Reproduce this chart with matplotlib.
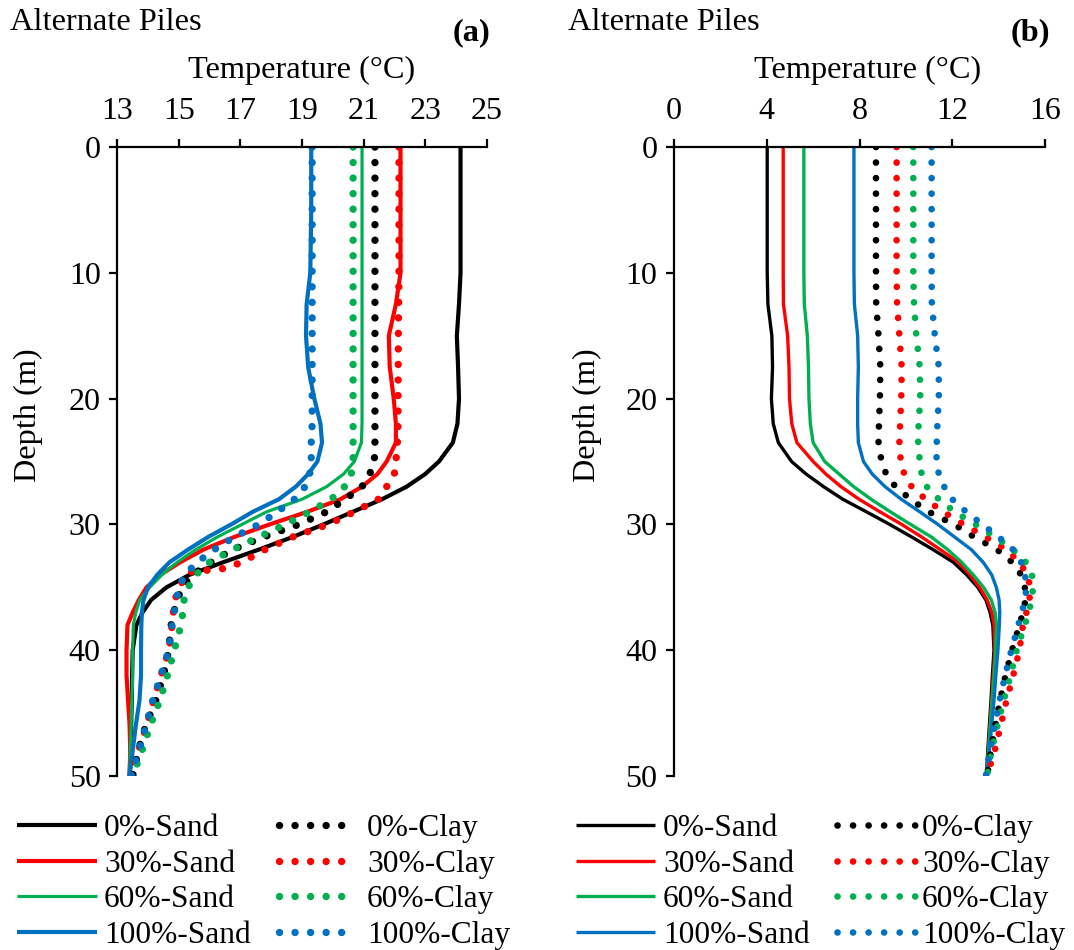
import matplotlib
matplotlib.use("Agg")
import matplotlib.pyplot as plt

plt.rcParams['font.family'] = ['Liberation Serif', 'DejaVu Serif']

# ---------------- data ----------------
depth = [0, 5, 10, 12.5, 15, 17.5, 20, 22, 23.5, 25, 26, 27, 28, 29, 30, 31, 32,
         33, 34, 35, 36, 37, 38, 40, 42, 44, 46, 48, 50]

# Panel (a)
a_sand_0 = [24.15, 24.15, 24.15, 24.1, 24.03, 24.07, 24.1, 24.05, 23.9, 23.45, 23.0, 22.4,
            21.6, 20.65, 19.7, 18.7, 17.6, 16.45, 15.35, 14.6, 14.1, 13.82, 13.62, 13.5,
            13.48, 13.47, 13.45, 13.43, 13.4]
a_sand_30 = [22.2, 22.2, 22.2, 22.05, 21.82, 21.85, 21.98, 22.05, 22.05, 21.75, 21.45, 20.95,
             20.25, 19.17, 17.95, 16.8, 15.8, 15.05, 14.4, 13.95, 13.7, 13.5, 13.33, 13.3,
             13.3, 13.35, 13.4, 13.42, 13.4]
a_sand_60 = [20.95, 20.95, 20.95, 20.95, 20.95, 20.95, 20.95, 20.95, 20.93, 20.7, 20.35, 19.8,
             19.0, 17.85, 17.05, 16.25, 15.55, 14.95, 14.45, 14.05, 13.73, 13.6, 13.52, 13.5,
             13.5, 13.47, 13.45, 13.42, 13.4]
a_sand_100 = [19.3, 19.3, 19.27, 19.15, 19.13, 19.2, 19.4, 19.6, 19.65, 19.5, 19.2, 18.8,
              18.25, 17.4, 16.7, 15.95, 15.3, 14.7, 14.3, 14.0, 13.85, 13.8, 13.78, 13.77,
              13.77, 13.72, 13.6, 13.5, 13.4]
a_clay_0 = [21.37, 21.37, 21.37, 21.37, 21.37, 21.37, 21.37, 21.37, 21.37, 21.35, 21.2, 20.95,
            20.4, 19.8, 18.9, 17.75, 16.75, 16.05, 15.45, 15.1, 14.95, 14.83, 14.75, 14.67,
            14.5, 14.25, 13.92, 13.68, 13.5]
depth_a_clay_30 = [0, 5, 10, 15, 20, 22, 23.5, 25, 26, 27, 28, 29, 30, 31, 32, 33, 33.5, 33.8,
                   35, 36, 37, 38, 40, 42, 44, 46, 48, 50]
a_clay_30 = [22.15, 22.15, 22.15, 22.13, 22.12, 22.12, 22.1, 22.05, 22.0, 21.75, 21.48, 20.7,
             19.85, 18.7, 17.8, 17.05, 16.5, 15.3, 15.0, 14.88, 14.82, 14.78, 14.68, 14.42,
             14.18, 13.95, 13.68, 13.45]
a_clay_60 = [20.66, 20.66, 20.66, 20.66, 20.66, 20.66, 20.66, 20.66, 20.66, 20.66, 20.6, 20.38,
             19.95, 19.25, 18.45, 17.6, 16.75, 16.0, 15.55, 15.3, 15.17, 15.13, 15.07, 14.85,
             14.63, 14.38, 14.07, 13.8, 13.5]
a_clay_100 = [19.33, 19.33, 19.33, 19.33, 19.33, 19.33, 19.33, 19.33, 19.3, 19.3, 19.25, 19.1,
              18.75, 18.2, 17.6, 16.8, 16.15, 15.6, 15.2, 15.0, 14.92, 14.85, 14.78, 14.67,
              14.42, 14.15, 13.93, 13.7, 13.45]

# Panel (b)
b_sand_0 = [4.02, 4.02, 4.02, 4.05, 4.22, 4.25, 4.2, 4.28, 4.5, 5.07, 5.7, 6.45, 7.28, 8.3,
            9.3, 10.25, 11.17, 12.04, 12.62, 13.1, 13.45, 13.63, 13.75, 13.8, 13.73, 13.67,
            13.6, 13.53, 13.47]
b_sand_30 = [4.71, 4.71, 4.71, 4.72, 4.9, 4.96, 4.98, 5.08, 5.3, 6.0, 6.55, 7.2, 7.98, 8.88,
             9.82, 10.68, 11.48, 12.26, 12.76, 13.18, 13.5, 13.71, 13.8, 13.84, 13.77, 13.7,
             13.63, 13.56, 13.48]
b_sand_60 = [5.6, 5.6, 5.6, 5.62, 5.75, 5.8, 5.82, 5.88, 6.0, 6.5, 7.12, 7.75, 8.5, 9.33,
             10.2, 11.1, 11.8, 12.4, 12.9, 13.35, 13.68, 13.85, 13.91, 13.87, 13.8, 13.72,
             13.64, 13.56, 13.48]
b_sand_100 = [7.76, 7.76, 7.76, 7.78, 7.92, 7.95, 7.92, 7.92, 7.95, 8.17, 8.55, 9.1, 9.8, 10.6,
              11.38, 12.1, 12.82, 13.33, 13.7, 13.9, 14.02, 14.05, 14.03, 13.97, 13.88, 13.8,
              13.7, 13.6, 13.5]
b_clay_0 = [8.71, 8.71, 8.71, 8.72, 8.82, 8.9, 8.88, 8.84, 8.82, 8.95, 9.15, 9.55, 10.2, 10.98,
            12.08, 12.95, 13.93, 14.58, 14.97, 15.13, 15.16, 15.05, 14.9, 14.58, 14.3, 14.06,
            13.86, 13.67, 13.5]
b_clay_30 = [9.6, 9.6, 9.6, 9.62, 9.72, 9.82, 9.8, 9.75, 9.72, 9.78, 9.93, 10.25, 10.85, 11.61,
             12.5, 13.43, 14.33, 14.9, 15.23, 15.37, 15.33, 15.2, 15.05, 14.9, 14.63, 14.34,
             14.09, 13.83, 13.5]
b_clay_60 = [10.32, 10.32, 10.32, 10.35, 10.45, 10.6, 10.62, 10.55, 10.53, 10.6, 10.68, 10.9,
             11.42, 12.1, 13.0, 13.86, 14.62, 15.17, 15.44, 15.49, 15.42, 15.3, 15.13, 14.78,
             14.52, 14.22, 13.95, 13.69, 13.5]
b_clay_100 = [11.11, 11.11, 11.11, 11.12, 11.25, 11.42, 11.42, 11.36, 11.33, 11.32, 11.42, 11.65,
              12.0, 12.6, 13.3, 14.0, 14.62, 14.97, 15.14, 15.2, 15.14, 15.0, 14.85, 14.55,
              14.28, 14.04, 13.83, 13.62, 13.45]

labels_sand = ["0%-Sand", "30%-Sand", "60%-Sand", "100%-Sand"]
labels_clay = ["0%-Clay", "30%-Clay", "60%-Clay", "100%-Clay"]
colors = ["#000000", "#FF0000", "#00B050", "#0070C0"]

a_xticks = [13, 15, 17, 19, 21, 23, 25]
b_xticks = [0, 4, 8, 12, 16]
yticks = [0, 10, 20, 30, 40, 50]

# ---------------- figure ----------------
W, H = 1074, 950
fig = plt.figure(figsize=(W / 100, H / 100), dpi=100)

FS = 23.3      # titles / axis labels
TFS = 23       # tick labels
LFS = 22.6     # legend
EM = LFS * 100 / 72.0   # legend em in pixels


def px(x, y):
    return x / W, 1 - y / H


ax_a = fig.add_axes([117.3 / W, 1 - 776 / H, 369.4 / W, (776 - 147) / H])
ax_b = fig.add_axes([674 / W, 1 - 776 / H, 371 / W, (776 - 147) / H])


def style(ax, xlim, xticks):
    ax.set_xlim(*xlim)
    ax.set_ylim(50, 0)
    ax.set_xticks(xticks)
    ax.set_yticks(yticks)
    ax.xaxis.tick_top()
    for s in ["right", "bottom"]:
        ax.spines[s].set_visible(False)
    for s in ["left", "top"]:
        ax.spines[s].set_linewidth(1.6)
    ax.tick_params(axis="x", which="both", direction="out", length=6, width=1.6,
                   labelsize=TFS, pad=9, top=True, bottom=False)
    ax.tick_params(axis="y", direction="out", length=6, width=1.6, labelsize=TFS, pad=6)
    ax.patch.set_alpha(0)


# Panel (a)
sand_a = [a_sand_0, a_sand_30, a_sand_60, a_sand_100]
clay_a = [a_clay_0, a_clay_30, a_clay_60, a_clay_100]
clay_a_depths = [depth, depth_a_clay_30, depth, depth]
lw_a = [3.0, 3.0, 2.3, 3.0]
hs_a, hc_a = [], []
for vals, c, lab, lw in zip(sand_a, colors, labels_sand, lw_a):
    hs_a += ax_a.plot(vals, depth, color=c, lw=lw, label=lab, solid_capstyle="butt")
for vals, d, c, lab in zip(clay_a, clay_a_depths, colors, labels_clay):
    hc_a += ax_a.plot(vals, d, color=c, lw=5.3, ls=(0, (0.01, 2.1)), dash_capstyle="round",
                      label=lab)
style(ax_a, (13, 25), a_xticks)

# Panel (b)
sand_b = [b_sand_0, b_sand_30, b_sand_60, b_sand_100]
clay_b = [b_clay_0, b_clay_30, b_clay_60, b_clay_100]
hs_b, hc_b = [], []
for vals, c, lab in zip(sand_b, colors, labels_sand):
    hs_b += ax_b.plot(vals, depth, color=c, lw=2.4, label=lab, solid_capstyle="butt")
for vals, c, lab in zip(clay_b, colors, labels_clay):
    hc_b += ax_b.plot(vals, depth, color=c, lw=4.8, ls=(0, (0.01, 2.32)), dash_capstyle="round",
                      label=lab)
style(ax_b, (0, 16), b_xticks)

# Texts
for x0, tag, xt, xtemp in [(10, "(a)", 471, 302), (568, "(b)", 1030, 868)]:
    fig.text(*px(x0, 23), "Alternate Piles", fontsize=FS, ha="left", va="center")
    fig.text(*px(xt, 33), tag, fontsize=FS, fontweight="bold", ha="center", va="center")
    fig.text(*px(xtemp, 70), "Temperature (°C)", fontsize=FS, ha="center", va="center")

fig.text(*px(28, 415), "Depth (m)", fontsize=FS, rotation=90, ha="center", va="center")
fig.text(*px(587, 415), "Depth (m)", fontsize=FS, rotation=90, ha="center", va="center")

# Legends: one per column (handle start x, handle length px, text start x)
LEG_TOP = 814
legend_cols = [
    (hs_a, labels_sand, 17, 80, 104),
    (hc_a, labels_clay, 279, 64, 367),
    (hs_b, labels_sand, 576, 79, 663),
    (hc_b, labels_clay, 837, 80, 922),
]
for handles, labs, x0, hlen, xtext in legend_cols:
    fig.legend(handles, labs, loc="upper left", bbox_to_anchor=px(x0, LEG_TOP), ncol=1,
               frameon=False, fontsize=LFS, handlelength=hlen / EM,
               handletextpad=(xtext - x0 - hlen) / EM, labelspacing=0.21,
               borderpad=0, borderaxespad=0)

fig.savefig("out.png", dpi=100)
